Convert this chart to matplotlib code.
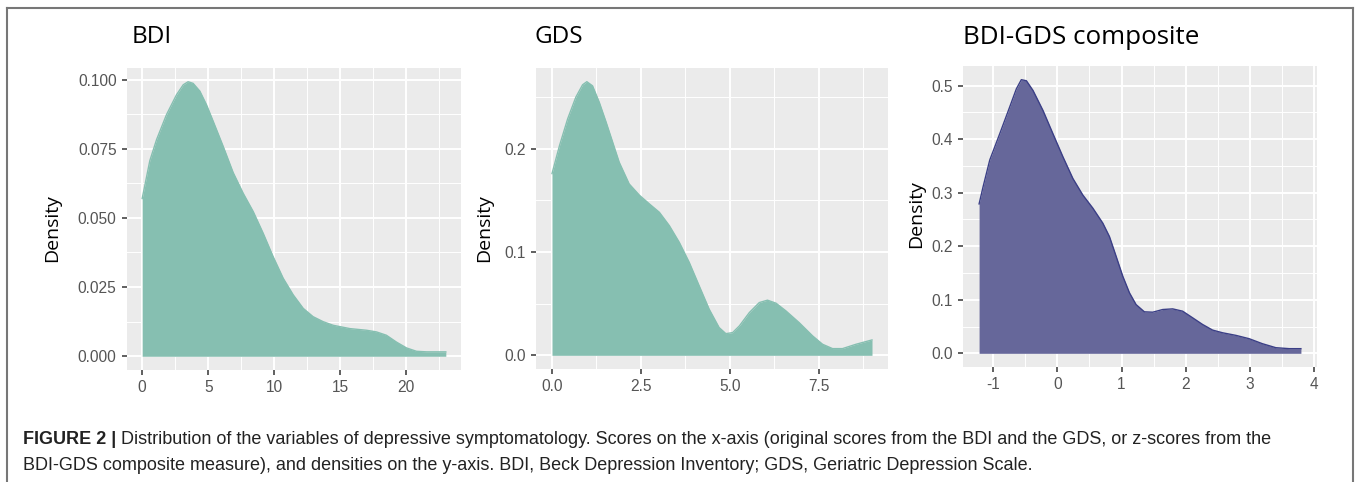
import matplotlib
matplotlib.use("Agg")
import matplotlib.pyplot as plt
from matplotlib.lines import Line2D

# ---------------- data ----------------
bdi_x = [0.0, 0.58, 1.09, 1.84, 2.60, 3.11, 3.48, 3.86, 4.37, 4.87, 5.38, 6.14,
         6.89, 7.65, 8.41, 9.17, 9.92, 10.68, 11.44, 12.20, 12.95, 13.71, 14.47,
         15.73, 17.0, 17.75, 18.5, 19.27, 20.03, 20.78, 21.54, 23.0]
bdi_y = [0.057, 0.0707, 0.0783, 0.0873, 0.0945, 0.0981, 0.0992, 0.0986, 0.0958,
         0.0909, 0.0849, 0.0758, 0.0664, 0.0589, 0.0523, 0.0444, 0.0360, 0.0282,
         0.0222, 0.0173, 0.0143, 0.0125, 0.0112, 0.0100, 0.0094, 0.0088, 0.0076,
         0.0051, 0.0030, 0.0018, 0.0016, 0.0016]

gds_x = [0.0, 0.21, 0.44, 0.67, 0.86, 0.98, 1.14, 1.33, 1.52, 1.71, 1.89, 2.17,
         2.46, 2.74, 3.02, 3.30, 3.58, 3.86, 4.14, 4.42, 4.70, 4.89, 5.08, 5.27,
         5.55, 5.83, 6.06, 6.30, 6.58, 6.95, 7.33, 7.61, 7.89, 8.17, 8.55, 9.0]
gds_y = [0.176, 0.203, 0.229, 0.250, 0.262, 0.265, 0.261, 0.245, 0.226, 0.206,
         0.187, 0.166, 0.155, 0.1466, 0.1385, 0.1256, 0.1094, 0.090, 0.0673,
         0.0447, 0.0269, 0.021, 0.022, 0.0285, 0.0414, 0.0511, 0.0534, 0.0505,
         0.043, 0.0317, 0.0188, 0.0107, 0.0065, 0.0065, 0.0107, 0.0149]

comp_x = [-1.216, -1.154, -1.05, -0.895, -0.74, -0.636, -0.559, -0.48, -0.378,
          -0.222, -0.067, 0.088, 0.243, 0.398, 0.554, 0.709, 0.812, 0.916, 1.019,
          1.123, 1.226, 1.355, 1.485, 1.64, 1.795, 1.95, 2.106, 2.26, 2.416, 2.57,
          2.78, 2.985, 3.19, 3.40, 3.61, 3.79]
comp_y = [0.279, 0.311, 0.361, 0.410, 0.460, 0.494, 0.511, 0.509, 0.491, 0.4535,
          0.410, 0.367, 0.3265, 0.2955, 0.271, 0.243, 0.218, 0.181, 0.144, 0.113,
          0.091, 0.0775, 0.0768, 0.0818, 0.083, 0.0787, 0.0663, 0.0539, 0.0434,
          0.0384, 0.0335, 0.0273, 0.018, 0.0105, 0.0087, 0.0087]

titles = ["BDI", "GDS", "BDI-GDS composite"]
x_ticks = [[0, 5, 10, 15, 20], [0.0, 2.5, 5.0, 7.5], [-1, 0, 1, 2, 3, 4]]
x_ticklabels = [["0", "5", "10", "15", "20"], ["0.0", "2.5", "5.0", "7.5"],
                ["-1", "0", "1", "2", "3", "4"]]
x_minor = [[2.5, 7.5, 12.5, 17.5, 22.5], [1.25, 3.75, 6.25, 8.75],
           [-0.5, 0.5, 1.5, 2.5, 3.5]]
y_ticks = [[0.0, 0.025, 0.05, 0.075, 0.1], [0.0, 0.1, 0.2],
           [0.0, 0.1, 0.2, 0.3, 0.4, 0.5]]
y_ticklabels = [["0.000", "0.025", "0.050", "0.075", "0.100"], ["0.0", "0.1", "0.2"],
                ["0.0", "0.1", "0.2", "0.3", "0.4", "0.5"]]
y_minor = [[0.0125, 0.0375, 0.0625, 0.0875], [0.05, 0.15, 0.25],
           [0.05, 0.15, 0.25, 0.35, 0.45]]

caption_bold = "FIGURE 2 |"
caption_line1 = (" Distribution of the variables of depressive symptomatology. Scores on the "
                 "x-axis (original scores from the BDI and the GDS, or z-scores from the")
caption_line2 = ("BDI-GDS composite measure), and densities on the y-axis. BDI, Beck "
                 "Depression Inventory; GDS, Geriatric Depression Scale.")

# ---------------- layout ----------------
W, H = 1357, 482
fig = plt.figure(figsize=(W / 100, H / 100), dpi=100)
fig.patch.set_facecolor("white")

panels = [(127, 461, 68, 370), (536, 888, 68, 369), (963, 1317, 66, 367)]
title_x = [132, 535, 963]
title_sizes = [17.5, 17.5, 18.7]
ylab_x = [52, 484, 916]
ylab_y = [228, 228, 214]

series = [(bdi_x, bdi_y, "#86BFB1", "#86BFB1"),
          (gds_x, gds_y, "#86BFB1", "#86BFB1"),
          (comp_x, comp_y, "#66679A", "#3B3F86")]

tick_font = "Liberation Sans"
title_font = "Open Sans"

for i, (l, r, t, b) in enumerate(panels):
    ax = fig.add_axes([l / W, 1 - b / H, (r - l) / W, (b - t) / H])
    xs, ys, fc, ec = series[i]
    xmin, xmax = min(xs), max(xs)
    dx = (xmax - xmin) * 0.05
    ymax = max(ys)
    dy = ymax * 0.05
    ax.set_xlim(xmin - dx, xmax + dx)
    ax.set_ylim(-dy, ymax + dy)
    ax.set_facecolor("#EBEBEB")
    for s in ax.spines.values():
        s.set_visible(False)
    for v in x_minor[i]:
        ax.axvline(v, color="white", lw=0.7, zorder=0)
    for v in y_minor[i]:
        ax.axhline(v, color="white", lw=0.7, zorder=0)
    for v in x_ticks[i]:
        ax.axvline(v, color="white", lw=1.4, zorder=0)
    for v in y_ticks[i]:
        ax.axhline(v, color="white", lw=1.4, zorder=0)
    ax.fill_between(xs, 0, ys, color=fc, lw=0, zorder=2)
    ax.plot(xs, ys, color=ec, lw=1.0, zorder=3, solid_joinstyle="round")
    ax.set_xticks(x_ticks[i])
    ax.set_xticklabels(x_ticklabels[i])
    ax.set_yticks(y_ticks[i])
    ax.set_yticklabels(y_ticklabels[i])
    ax.tick_params(axis="both", length=3.5, width=1.2, color="#444444",
                   labelcolor="#555555", labelsize=11.2, pad=4)
    for lab in ax.get_xticklabels() + ax.get_yticklabels():
        lab.set_fontfamily(tick_font)
    fig.text(title_x[i] / W, 1 - 37 / H, titles[i], fontsize=title_sizes[i],
             family=title_font, ha="left", va="center", color="black")
    fig.text(ylab_x[i] / W, 1 - ylab_y[i] / H, "Density", fontsize=14,
             family=title_font, rotation=90, ha="center", va="center", color="black")

# border around figure (left, top, right)
fig.add_artist(Line2D([7 / W, 7 / W], [0, 1 - 8 / H], transform=fig.transFigure,
                      color="#777777", lw=1.5))
fig.add_artist(Line2D([7 / W, 1353 / W], [1 - 8 / H, 1 - 8 / H], transform=fig.transFigure,
                      color="#777777", lw=1.5))
fig.add_artist(Line2D([1353 / W, 1353 / W], [0, 1 - 8 / H], transform=fig.transFigure,
                      color="#777777", lw=1.5))

# caption
cap_size = 13.0
tb = fig.text(23 / W, 1 - 440 / H, caption_bold, fontsize=cap_size, family="Liberation Sans",
              fontweight="bold", ha="left", va="center", color="#222222")
fig.canvas.draw()
bb = tb.get_window_extent(renderer=fig.canvas.get_renderer())
fig.text(bb.x1 / W, 1 - 440 / H, caption_line1, fontsize=cap_size, family="Liberation Sans",
         ha="left", va="center", color="#222222")
fig.text(23 / W, 1 - 466 / H, caption_line2, fontsize=cap_size, family="Liberation Sans",
         ha="left", va="center", color="#222222")

fig.savefig("out.png", dpi=100, facecolor="white")
